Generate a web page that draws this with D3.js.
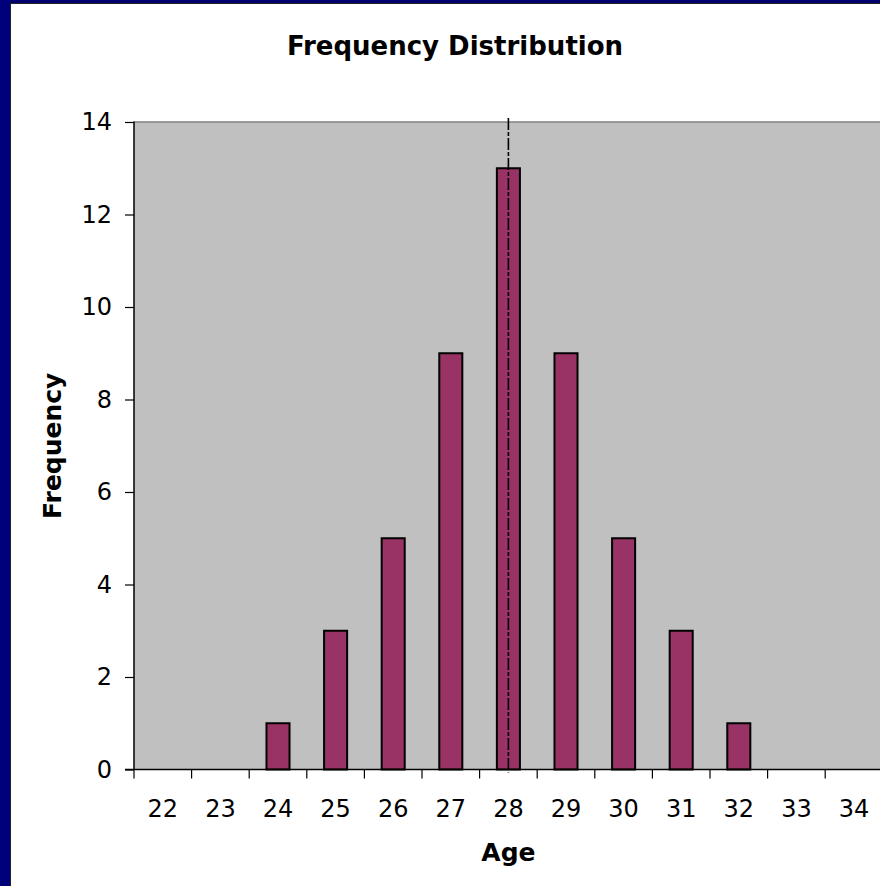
<!DOCTYPE html>
<html>
<head>
<meta charset="utf-8">
<script src="https://cdn.jsdelivr.net/npm/d3@7"></script>
<style>
  html, body { margin: 0; padding: 0; background: #fff; }
  svg { display: block; }
  text { font-family: "DejaVu Sans", Verdana, sans-serif; fill: #000; }
</style>
</head>
<body>
<svg id="chart"></svg>
<script>
var ages = ['22','23','24','25','26','27','28','29','30','31','32','33','34'];
var freqs = [0, 0, 1, 3, 5, 9, 13, 9, 5, 3, 1, 0, 0];
var yTicks = [0, 2, 4, 6, 8, 10, 12, 14];
var meanAge = '28';
var titleText = 'Frequency Distribution';
var xTitle = 'Age';
var yTitle = 'Frequency';

var WIDTH = 880;
var HEIGHT = 886;

var svg = d3.select('#chart')
  .attr('width', WIDTH)
  .attr('height', HEIGHT);

// frame at left / top
svg.append('rect').attr('x', 0).attr('y', 0).attr('width', WIDTH).attr('height', HEIGHT).attr('fill', '#fff');
svg.append('rect').attr('x', 0).attr('y', 0).attr('width', WIDTH).attr('height', 3).attr('fill', '#00006e');
svg.append('rect').attr('x', 0).attr('y', 0).attr('width', 10).attr('height', HEIGHT).attr('fill', '#00007a');
svg.append('line').attr('x1', 10.5).attr('x2', 10.5).attr('y1', 3).attr('y2', HEIGHT).attr('stroke', '#222').attr('stroke-width', 1);
svg.append('line').attr('x1', 10).attr('x2', WIDTH).attr('y1', 3.5).attr('y2', 3.5).attr('stroke', '#222').attr('stroke-width', 1);

var plotLeft = 134, plotTop = 122, plotBottom = 769.5;
var step = 57.6;
var plotRight = plotLeft + ages.length * step;

var xScale = d3.scaleBand().domain(ages).range([plotLeft, plotRight]).padding(0);
var barScale = d3.scaleBand().domain(ages).range([plotLeft, plotRight]).paddingInner(0.6).paddingOuter(0.3);
var yScale = d3.scaleLinear().domain([0, 14]).range([plotBottom, plotTop]);

// plot area
svg.append('rect')
  .attr('x', plotLeft).attr('y', plotTop)
  .attr('width', plotRight - plotLeft).attr('height', plotBottom - plotTop)
  .attr('fill', '#c0c0c0');
svg.append('line')
  .attr('x1', plotLeft).attr('x2', plotRight).attr('y1', plotTop).attr('y2', plotTop)
  .attr('stroke', '#808080').attr('stroke-width', 1.5);

// bars
svg.append('g').selectAll('rect')
  .data(freqs)
  .enter()
  .append('rect')
  .attr('x', function(d, i) { return barScale(ages[i]); })
  .attr('width', barScale.bandwidth())
  .attr('y', function(d) { return yScale(d); })
  .attr('height', function(d) { return yScale(0) - yScale(d); })
  .attr('fill', '#993366')
  .attr('stroke', '#000')
  .attr('stroke-width', 2)
  .style('display', function(d) { return d > 0 ? null : 'none'; });

// axes
var leftAxis = d3.axisLeft(yScale).tickValues(yTicks).tickSize(9).tickPadding(13).tickFormat(d3.format('d'));
var gy = svg.append('g').attr('transform', 'translate(' + plotLeft + ',0)').call(leftAxis);
gy.select('.domain').attr('stroke', '#000').attr('stroke-width', 1.5).attr('d', 'M0,' + (plotTop - 0.5) + 'V' + plotBottom);
gy.selectAll('.tick line').attr('stroke', '#000').attr('stroke-width', 1.2);
gy.selectAll('.tick text').style('font-size', '24px').attr('fill', '#000');

var bottomAxis = d3.axisBottom(xScale).tickSize(0).tickPadding(30);
var gx = svg.append('g').attr('transform', 'translate(0,' + plotBottom + ')').call(bottomAxis);
gx.select('.domain').attr('stroke', '#000').attr('stroke-width', 1.5).attr('d', 'M' + (plotLeft - 9) + ',0H' + plotRight);
gx.selectAll('.tick text').style('font-size', '24px').attr('fill', '#000');

// tick marks at category boundaries
gx.append('g').selectAll('line')
  .data(ages)
  .enter()
  .append('line')
  .attr('x1', function(d) { return xScale(d); })
  .attr('x2', function(d) { return xScale(d); })
  .attr('y1', 0).attr('y2', 9)
  .attr('stroke', '#000').attr('stroke-width', 1.2);

// mean line
var mx = xScale(meanAge) + xScale.bandwidth() / 2;
svg.append('line')
  .attr('x1', mx).attr('x2', mx)
  .attr('y1', plotTop - 4).attr('y2', plotBottom + 3)
  .attr('stroke', '#000').attr('stroke-width', 1.6)
  .attr('stroke-dasharray', '12,2,4,2');

// titles
svg.append('text')
  .attr('x', 455).attr('y', 55)
  .attr('text-anchor', 'middle')
  .style('font-size', '26px').style('font-weight', 'bold')
  .text(titleText);

svg.append('text')
  .attr('x', mx).attr('y', 861)
  .attr('text-anchor', 'middle')
  .style('font-size', '25px').style('font-weight', 'bold')
  .text(xTitle);

svg.append('text')
  .attr('transform', 'translate(61,' + ((plotTop + plotBottom) / 2) + ') rotate(-90)')
  .attr('text-anchor', 'middle')
  .style('font-size', '25px').style('font-weight', 'bold')
  .text(yTitle);
</script>
</body>
</html>
